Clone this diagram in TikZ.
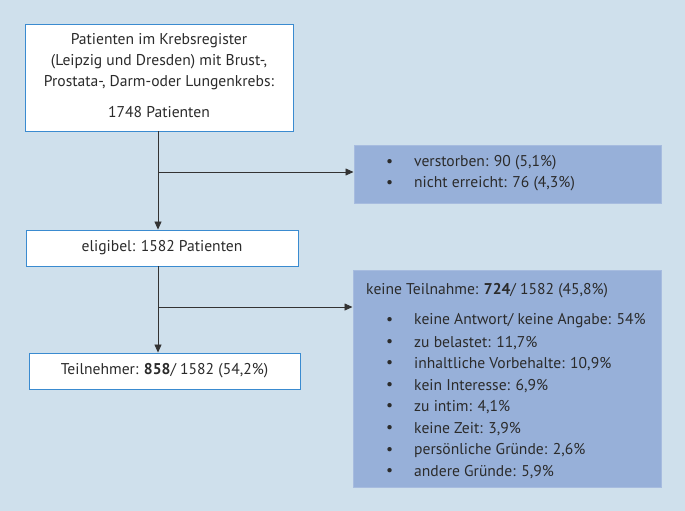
\documentclass[tikz,border=0pt]{standalone}
\usepackage{fontspec}
\setmainfont{PT Sans}
\usetikzlibrary{arrows.meta}
\definecolor{bg}{HTML}{CFE0EC}
\definecolor{boxblue}{HTML}{97B0D9}
\definecolor{boxline}{HTML}{3A8BD0}
\definecolor{lin}{HTML}{333333}
\definecolor{txt}{HTML}{2B2B2B}
\begin{document}
\begin{tikzpicture}[x=1pt,y=-1pt,
  every node/.style={font=\fontsize{15.6}{21}\selectfont, text=txt},
  wbox/.style={draw=boxline, line width=0.9pt, fill=white, inner sep=0pt},
  bbox/.style={draw=boxblue!85!white, line width=1pt, fill=boxblue, inner sep=0pt},
  lbl/.style={anchor=west, inner sep=0pt},
  conn/.style={draw=lin, line width=0.8pt},
  arr/.style={conn, -{Triangle[length=8pt,width=7pt]}}]
\fill[bg] (0,0) rectangle (685,511);
\useasboundingbox (0,0) rectangle (685,511);
% boxes
\node[wbox, minimum width=268pt, minimum height=107pt] (reg) at (159,77.5) {};
\node[align=center, anchor=north, inner sep=0pt] (regtxt) at (159,33) {Patienten im Krebsregister\\(Leipzig und Dresden) mit Brust-,\\Prostata-, Darm-oder Lungenkrebs:};
\node (regn) at (159,112) {1748 Patienten};
\node[bbox, minimum width=307pt, minimum height=58pt] (out1) at (507.5,174) {};
\node[wbox, minimum width=272pt, minimum height=36pt] (elig) at (162,248) {eligibel: 1582 Patienten};
\node[wbox, minimum width=271pt, minimum height=36pt] (teil) at (164.5,371) {Teilnehmer: \textbf{858}/ 1582 (54,2\%)};
\node[bbox, minimum width=308pt, minimum height=217pt] (out2) at (507,378.5) {};
% texts in blue boxes
\node[lbl] (v1b) at (386,163) {•};
\node[lbl] (v1) at (414,163) {verstorben: 90 (5,1\%)};
\node[lbl] (v2b) at (386,184) {•};
\node[lbl] (v2) at (414,184) {nicht erreicht: 76 (4,3\%)};
\node[lbl] (kh) at (366,291) {keine Teilnahme: \textbf{724}/ 1582 (45,8\%)};
\foreach \t [count=\i] in {{keine Antwort/ keine Angabe: 54\%}, {zu belastet: 11,7\%}, {inhaltliche Vorbehalte: 10,9\%}, {kein Interesse: 6,9\%}, {zu intim: 4,1\%}, {keine Zeit: 3,9\%}, {persönliche Gründe: 2,6\%}, {andere Gründe: 5,9\%}}{
  \node[lbl] (kb\i) at (386,{321+21.6*(\i-1)}) {•};
  \node[lbl] (k\i) at (414,{321+21.6*(\i-1)}) {\t};
}
% connectors
\coordinate (j1) at (158,172);
\coordinate (j2) at (158,307);
\draw[arr] (reg.south -| j1) -- (elig.north -| j1);
\draw[arr] (j1) -- (j1 -| out1.west);
\draw[arr] (elig.south -| j2) -- (teil.north -| j2);
\draw[arr] (j2) -- (j2 -| out2.west);
\end{tikzpicture}
\end{document}
